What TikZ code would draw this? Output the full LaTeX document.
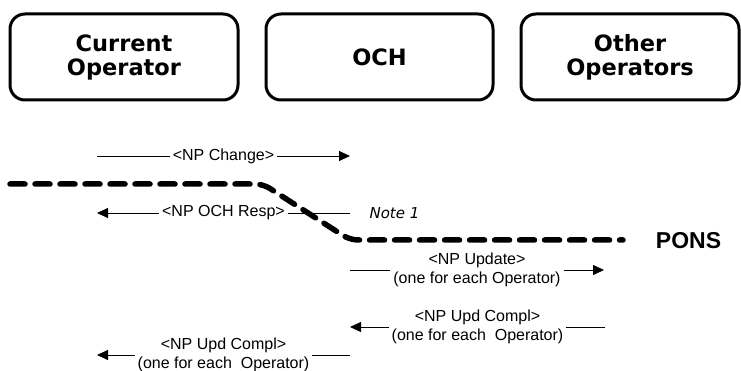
\documentclass[tikz,border=0pt]{standalone}
\usepackage{fontspec}
\setmainfont{Liberation Sans}
\newfontfamily\boxfont{DejaVu Sans}
\usetikzlibrary{arrows.meta}

\tikzset{
  party/.style={draw, line width=3pt, rounded corners=15pt, minimum height=86pt,
    inner sep=0pt, align=center, font=\boxfont\bfseries\fontsize{22.5}{24}\selectfont},
  msg/.style={line width=0.8pt, -{Triangle[length=11pt,width=10pt]}},
  msglabel/.style={fill=white, inner xsep=3pt, inner ysep=0pt, align=center,
    font=\fontsize{16}{19}\selectfont},
  pons/.style={line width=5.5pt, dash pattern=on 15pt off 10pt, line cap=round,
    rounded corners=8pt}
}

\begin{document}
\begin{tikzpicture}[x=1pt,y=-1pt]
    \useasboundingbox (0,0) rectangle (741,371);

    %Parties
    \node[party, minimum width=228pt] (Current) at (124,57) {Current\\Operator};
    \node[party, minimum width=227pt] (OCH) at (379.5,57) {OCH};
    \node[party, minimum width=218pt] (Others) at (630,57) {Other\\Operators};

    %Message end points
    \coordinate (ChangeL) at (97,156);
    \coordinate (ChangeR) at (350,156);
    \coordinate (RespR) at (350,213);
    \coordinate (RespL) at (97,213);
    \coordinate (UpdateL) at (350,270);
    \coordinate (UpdateR) at (604,270);
    \coordinate (ComplR) at (605,327);
    \coordinate (ComplL) at (350,327);
    \coordinate (BackR) at (350,355);
    \coordinate (BackL) at (97,355);

    %Messages
    \draw[msg] (ChangeL) -- node[msglabel] {<NP Change>} (ChangeR);
    \draw[msg] (RespR) -- node[msglabel] {<NP OCH Resp>} (RespL);
    \draw[msg] (UpdateL) -- node[msglabel] {<NP Update>\\(one for each Operator)} (UpdateR);
    \draw[msg] (ComplR) -- node[msglabel] {<NP Upd Compl>\\(one for each~ Operator)} (ComplL);
    \draw[msg] (BackR) -- node[msglabel] {<NP Upd Compl>\\(one for each~ Operator)} (BackL);

    \node[font=\boxfont\itshape\fontsize{15}{18}\selectfont] (Note) at (394.5,213) {Note 1};

    %PONS line
    \coordinate (PonsStart) at (10,184);
    \coordinate (PonsBendA) at (263,184);
    \coordinate (PonsBendB) at (350,240);
    \coordinate (PonsEnd) at (623,240);
    \draw[pons] (PonsStart) -- (PonsBendA) -- (PonsBendB) -- (PonsEnd);
    \node[font=\bfseries\fontsize{23}{26}\selectfont] (Pons) at (688.5,241) {PONS};
  \end{tikzpicture}
\end{document}
